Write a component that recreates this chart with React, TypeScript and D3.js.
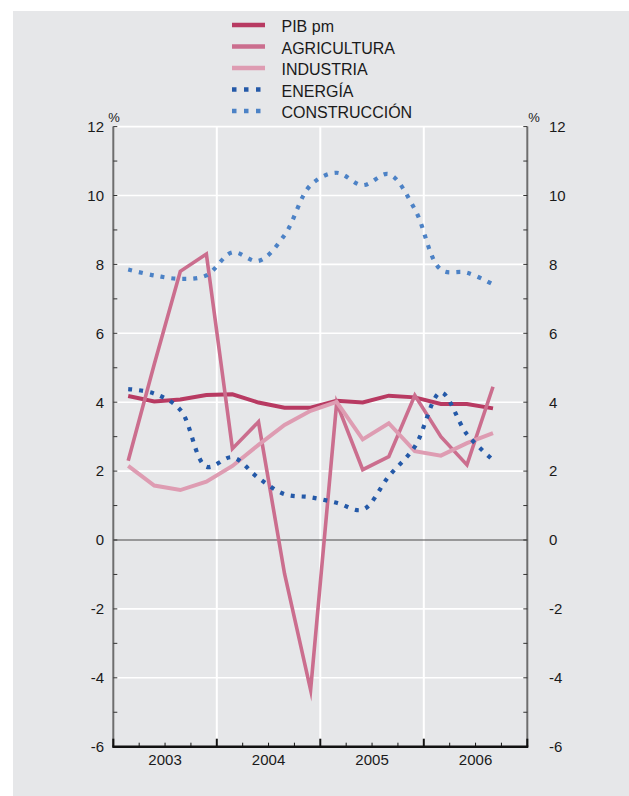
import React from "react";
import * as d3 from "d3";

const years = ["2003", "2004", "2005", "2006"];
const yTicks = [-6, -4, -2, 0, 2, 4, 6, 8, 10, 12];

const pibPm = [4.18, 4.02, 4.08, 4.21, 4.23, 3.99, 3.84, 3.84, 4.04, 3.99, 4.19, 4.14, 3.95, 3.95, 3.82];
const agricultura = [2.3, 5.1, 7.8, 8.3, 2.65, 3.43, -0.98, -4.35, 3.98, 2.04, 2.42, 4.2, 3.0, 2.18, 4.45];
const industria = [2.15, 1.58, 1.45, 1.69, 2.15, 2.76, 3.34, 3.75, 4.01, 2.92, 3.39, 2.58, 2.45, 2.81, 3.1];
const energia = [4.38, 4.25, 3.78, 2.13, 2.4, 1.8, 1.33, 1.24, 1.08, 0.88, 1.85, 2.71, 4.28, 3.07, 2.32];
const construccion = [7.85, 7.68, 7.58, 7.68, 8.35, 8.1, 8.85, 10.3, 10.66, 10.3, 10.62, 9.6, 7.85, 7.76, 7.42];

const seriesNames = ["PIB pm", "AGRICULTURA", "INDUSTRIA", "ENERGÍA", "CONSTRUCCIÓN"];

const W = 629;
const H = 796;
const left = 113.3;
const right = 527.3;
const top = 126.6;
const bottom = 746.7;

const font = "'Liberation Sans', Arial, Helvetica, sans-serif";

export default function App() {
  const x = d3.scaleLinear().domain([0, 16]).range([left, right]);
  const xp = d3.scaleLinear().domain([0, 14]).range([128.2, 493]);
  const y = d3.scaleLinear().domain([-6, 12]).range([bottom, top]);
  const px = (i: number) => xp(i);

  const linear = d3
    .line<number>()
    .x((_, i) => px(i))
    .y((d) => y(d));
  const smooth = d3
    .line<number>()
    .x((_, i) => px(i))
    .y((d) => y(d))
    .curve(d3.curveCatmullRom.alpha(0.5));

  const styles = [
    { data: pibPm, color: "#b83a62", w: 4, dash: undefined as string | undefined, gen: linear },
    { data: agricultura, color: "#cb6e8e", w: 3.6, dash: undefined, gen: linear },
    { data: industria, color: "#de9cb2", w: 4, dash: undefined, gen: linear },
    { data: energia, color: "#2459a8", w: 4.2, dash: "4 7", gen: smooth },
    { data: construccion, color: "#4c82c6", w: 4.2, dash: "4 7", gen: smooth },
  ];

  const minorTicks = d3.range(-6, 13, 1);
  const quarterTicks = d3.range(0, 17, 1);

  return (
    <svg
      width={W}
      height={H}
      style={{ position: "absolute", left: 0, top: 0, display: "block" }}
      fontFamily={font}
    >
      <rect x={0} y={0} width={W} height={H} fill="#ffffff" />
      <rect x={13} y={11} width={W - 13} height={H - 11} fill="#e6e7e9" />

      {/* legend */}
      {seriesNames.map((name, k) => {
        const ly = 25 + k * 21.5;
        const s = styles[k];
        return (
          <g key={name}>
            <line
              x1={232}
              x2={265}
              y1={ly}
              y2={ly}
              stroke={s.color}
              strokeWidth={4.5}
              strokeDasharray={s.dash ? "4.5 7.5" : undefined}
            />
            <text x={281.5} y={ly + 7.3} fontSize={16} fill="#1a1a1a">
              {name}
            </text>
          </g>
        );
      })}

      {/* horizontal gridlines */}
      {yTicks
        .filter((t) => t !== 0 && t !== -6)
        .map((t) => (
          <line key={"g" + t} x1={left} x2={right} y1={y(t)} y2={y(t)} stroke="#ffffff" strokeWidth={1.6} />
        ))}
      {/* vertical year gridlines */}
      {[4, 8, 12].map((q) => (
        <line key={"v" + q} x1={x(q)} x2={x(q)} y1={top} y2={bottom} stroke="#ffffff" strokeWidth={2} />
      ))}

      {/* zero line */}
      <line x1={left} x2={right} y1={y(0)} y2={y(0)} stroke="#4a4a4a" strokeWidth={1.2} />

      {/* series */}
      {styles.map((s, k) => (
        <path
          key={"s" + k}
          d={s.gen(s.data) || ""}
          fill="none"
          stroke={s.color}
          strokeWidth={s.w}
          strokeDasharray={s.dash}
          strokeLinejoin="miter"
          strokeMiterlimit={12}
        />
      ))}

      {/* left & right axes */}
      <line x1={left} x2={left} y1={top} y2={bottom} stroke="#6e6e6e" strokeWidth={2} />
      <line x1={right} x2={right} y1={top} y2={bottom} stroke="#6e6e6e" strokeWidth={2} />
      {minorTicks.map((t) => (
        <g key={"mt" + t}>
          <line x1={left} x2={left + 4} y1={y(t)} y2={y(t)} stroke="#333" strokeWidth={1} />
          <line x1={right - 4} x2={right} y1={y(t)} y2={y(t)} stroke="#333" strokeWidth={1} />
        </g>
      ))}

      {/* bottom axis */}
      <line x1={left - 1} x2={right + 1} y1={bottom} y2={bottom} stroke="#111" strokeWidth={2.4} />
      {quarterTicks.map((q) => (
        <line
          key={"qt" + q}
          x1={x(q)}
          x2={x(q)}
          y1={bottom}
          y2={bottom - (q % 4 === 0 ? 8 : 4)}
          stroke="#111"
          strokeWidth={q % 4 === 0 ? 2 : 1}
        />
      ))}

      {/* y tick labels */}
      {yTicks.map((t) => (
        <g key={"yl" + t}>
          <text x={104} y={y(t) + 5.3} fontSize={15} textAnchor="end" fill="#1a1a1a">
            {t}
          </text>
          <text x={549} y={y(t) + 5.3} fontSize={15} textAnchor="start" fill="#1a1a1a">
            {t}
          </text>
        </g>
      ))}
      <text x={114} y={122} fontSize={13} textAnchor="middle" fill="#1a1a1a">
        %
      </text>
      <text x={534} y={122} fontSize={13} textAnchor="middle" fill="#1a1a1a">
        %
      </text>

      {/* year labels */}
      {years.map((yr, k) => (
        <text key={yr} x={x(k * 4 + 2)} y={764.5} fontSize={15} textAnchor="middle" fill="#1a1a1a">
          {yr}
        </text>
      ))}
    </svg>
  );
}
